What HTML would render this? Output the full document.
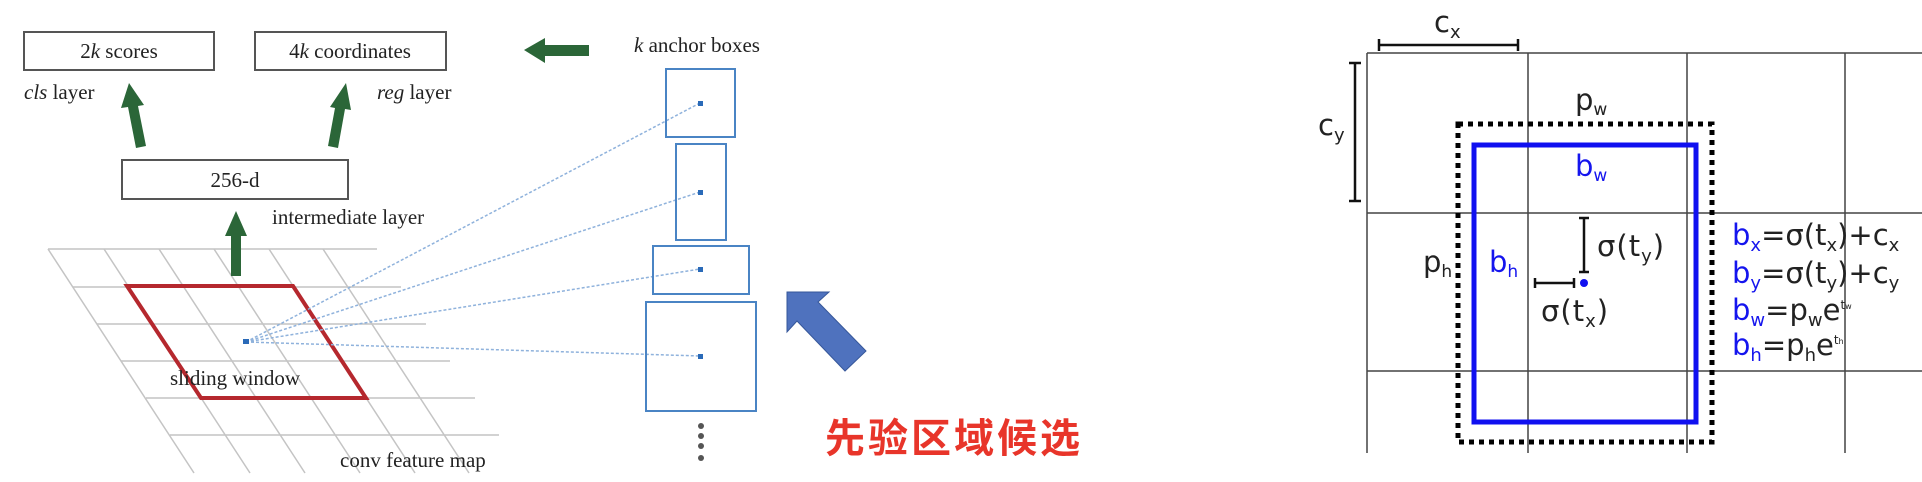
<!DOCTYPE html>
<html><head><meta charset="utf-8"><style>
html,body{margin:0;padding:0;background:#fff;width:1922px;height:482px;overflow:hidden}
svg{display:block}
.s{font-family:"Liberation Serif",serif;font-size:21px;fill:#222}
.d{font-family:"DejaVu Sans",sans-serif;font-size:29px;fill:#222}
.b{fill:#1515ee}
</style></head><body>
<svg width="1922" height="482" viewBox="0 0 1922 482" xmlns="http://www.w3.org/2000/svg">
<g stroke="#c4c4c4" stroke-width="1.5">
<line x1="48" y1="249" x2="377" y2="249"/>
<line x1="73" y1="287" x2="401" y2="287"/>
<line x1="97" y1="324" x2="426" y2="324"/>
<line x1="121" y1="361" x2="450" y2="361"/>
<line x1="146" y1="398" x2="475" y2="398"/>
<line x1="170" y1="435" x2="499" y2="435"/>
<line x1="48" y1="249" x2="194" y2="473"/>
<line x1="104" y1="249" x2="250" y2="473"/>
<line x1="159" y1="249" x2="305" y2="473"/>
<line x1="214" y1="249" x2="360" y2="473"/>
<line x1="269" y1="249" x2="415" y2="473"/>
<line x1="323" y1="249" x2="469" y2="473"/>
</g>
<polygon points="127,286 293,286 366,398 201,398" fill="none" stroke="#b5282e" stroke-width="4"/>
<g stroke="#8fb2dc" stroke-width="1.5" stroke-dasharray="3,2" fill="none">
<line x1="246" y1="342" x2="700" y2="103"/>
<line x1="246" y1="342" x2="700" y2="192"/>
<line x1="246" y1="342" x2="700" y2="269"/>
<line x1="246" y1="342" x2="700" y2="356"/>
</g>
<rect x="243" y="339" width="6" height="5" fill="#2a6ab8"/>
<g fill="#fff" stroke="#555" stroke-width="2">
<rect x="24" y="32" width="190" height="38"/>
<rect x="255" y="32" width="191" height="38"/>
<rect x="122" y="160" width="226" height="39"/>
</g>
<text class="s" x="119" y="58" text-anchor="middle">2<tspan font-style="italic">k</tspan> scores</text>
<text class="s" x="350" y="58" text-anchor="middle">4<tspan font-style="italic">k</tspan> coordinates</text>
<text class="s" x="235" y="187" text-anchor="middle">256-d</text>
<text class="s" x="24" y="99"><tspan font-style="italic">cls</tspan> layer</text>
<text class="s" x="377" y="99"><tspan font-style="italic">reg</tspan> layer</text>
<text class="s" x="272" y="224">intermediate layer</text>
<text class="s" x="170" y="385">sliding window</text>
<text class="s" x="340" y="467">conv feature map</text>
<text class="s" x="634" y="52"><tspan font-style="italic">k</tspan> anchor boxes</text>
<g fill="#2b6638">
<polygon points="524,50 545,38 545,45 589,45 589,56 545,56 545,63"/>
<polygon points="129,83 144,105 138,106 146,146 136,148 128,107 121,108"/>
<polygon points="346,83 351,110 345,109 338,148 328,146 335,108 330,107"/>
<polygon points="236,211 247,236 241,236 241,276 231,276 231,236 225,236"/>
</g>
<g fill="none" stroke="#4a84c4" stroke-width="2">
<rect x="666" y="69" width="69" height="68"/>
<rect x="676" y="144" width="50" height="96"/>
<rect x="653" y="246" width="96" height="48"/>
<rect x="646" y="302" width="110" height="109"/>
</g>
<g fill="#2a6ab8">
<rect x="698" y="101" width="5" height="5"/>
<rect x="698" y="190" width="5" height="5"/>
<rect x="698" y="267" width="5" height="5"/>
<rect x="698" y="354" width="5" height="5"/>
</g>
<g fill="#555"><circle cx="701" cy="426" r="3"/><circle cx="701" cy="436" r="3"/><circle cx="701" cy="446" r="3"/><circle cx="701" cy="458" r="3"/></g>
<polygon points="787,292 829,292 818,302 866,351 845,371 797,321 787,332" fill="#4f72be" stroke="#36579a" stroke-width="1"/>
<text x="825" y="452" font-family="'Noto Sans CJK SC',sans-serif" font-weight="bold" font-size="40" fill="#e8352a" letter-spacing="3">先验区域候选</text>
<g stroke="#444" stroke-width="1.5">
<line x1="1367" y1="53" x2="1922" y2="53"/>
<line x1="1367" y1="213" x2="1922" y2="213"/>
<line x1="1367" y1="371" x2="1922" y2="371"/>
<line x1="1367" y1="53" x2="1367" y2="453"/>
<line x1="1528" y1="53" x2="1528" y2="453"/>
<line x1="1687" y1="53" x2="1687" y2="453"/>
<line x1="1845" y1="53" x2="1845" y2="453"/>
</g>
<g stroke="#111" stroke-width="2.5">
<line x1="1379" y1="45" x2="1518" y2="45"/><line x1="1379" y1="39" x2="1379" y2="51"/><line x1="1518" y1="39" x2="1518" y2="51"/>
<line x1="1355" y1="63" x2="1355" y2="201"/><line x1="1349" y1="63" x2="1361" y2="63"/><line x1="1349" y1="201" x2="1361" y2="201"/>
<line x1="1584" y1="218" x2="1584" y2="272"/><line x1="1579" y1="218" x2="1589" y2="218"/><line x1="1579" y1="272" x2="1589" y2="272"/>
<line x1="1535" y1="283" x2="1574" y2="283"/><line x1="1535" y1="278" x2="1535" y2="288"/><line x1="1574" y1="278" x2="1574" y2="288"/>
</g>
<rect x="1458" y="124" width="254" height="318" fill="none" stroke="#000" stroke-width="5" stroke-dasharray="5,5"/>
<rect x="1474" y="145" width="222" height="277" fill="none" stroke="#1010f0" stroke-width="5"/>
<circle cx="1584" cy="283" r="4" fill="#1010f0"/>
<text class="d" x="1434" y="32">c<tspan font-size="18" dy="6">x</tspan></text>
<text class="d" x="1318" y="135">c<tspan font-size="18" dy="6">y</tspan></text>
<text class="d" x="1575" y="110">p<tspan font-size="17" dy="5">w</tspan></text>
<text class="d b" x="1575" y="176">b<tspan font-size="17" dy="5">w</tspan></text>
<text class="d" x="1423" y="272">p<tspan font-size="17" dy="5">h</tspan></text>
<text class="d b" x="1489" y="272">b<tspan font-size="17" dy="5">h</tspan></text>
<text class="d" x="1597" y="256" letter-spacing="1">σ(t<tspan font-size="18" dy="6">y</tspan><tspan dy="-6">)</tspan></text>
<text class="d" x="1541" y="321" letter-spacing="1">σ(t<tspan font-size="18" dy="6">x</tspan><tspan dy="-6">)</tspan></text>
<text class="d" x="1732" y="245" font-size="28"><tspan class="b">b</tspan><tspan class="b" font-size="18" dy="6">x</tspan><tspan dy="-6">=σ(t</tspan><tspan font-size="18" dy="6">x</tspan><tspan dy="-6">)+c</tspan><tspan font-size="18" dy="6">x</tspan></text>
<text class="d" x="1732" y="283" font-size="28"><tspan class="b">b</tspan><tspan class="b" font-size="18" dy="6">y</tspan><tspan dy="-6">=σ(t</tspan><tspan font-size="18" dy="6">y</tspan><tspan dy="-6">)+c</tspan><tspan font-size="18" dy="6">y</tspan></text>
<text class="d" x="1732" y="320" font-size="28"><tspan class="b">b</tspan><tspan class="b" font-size="18" dy="6">w</tspan><tspan dy="-6">=p</tspan><tspan font-size="18" dy="6">w</tspan><tspan dy="-6">e</tspan><tspan font-size="12" dy="-11">t</tspan><tspan font-size="8">w</tspan></text>
<text class="d" x="1732" y="355" font-size="28"><tspan class="b">b</tspan><tspan class="b" font-size="18" dy="6">h</tspan><tspan dy="-6">=p</tspan><tspan font-size="18" dy="6">h</tspan><tspan dy="-6">e</tspan><tspan font-size="12" dy="-11">t</tspan><tspan font-size="8">h</tspan></text>
</svg>
</body></html>
